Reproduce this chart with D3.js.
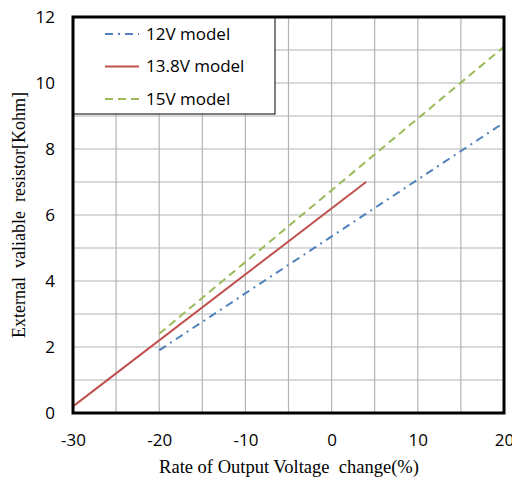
<!DOCTYPE html>
<html>
<head>
<meta charset="utf-8">
<script src="https://cdn.jsdelivr.net/npm/d3@7"></script>
<style>
  html, body { margin: 0; padding: 0; background: #fff; }
  svg { display: block; }
</style>
</head>
<body>
<svg id="chart" width="512" height="477"></svg>
<script>
// Series: rate of output voltage change (%) vs external resistor (kOhm)
const seriesNames = ["12V model", "13.8V model", "15V model"];
const seriesX = [
  [-20, 20],
  [-30, 4],
  [-20, 20]
];
const seriesY = [
  [1.9, 8.8],
  [0.2, 7.0],
  [2.4, 11.1]
];
const seriesColors = ["#4F81BD", "#C0504D", "#9BBB59"];
const seriesDash = ["8,5,2,5", null, "8,5"];

const xTicks = [-30, -20, -10, 0, 10, 20];
const yTicks = [0, 2, 4, 6, 8, 10, 12];
const xGrid = d3.range(-30, 20.1, 5);
const yGrid = d3.range(0, 12.1, 1);

const svg = d3.select("#chart");
const plot = { left: 73, right: 504, top: 17, bottom: 413 };

const x = d3.scaleLinear().domain([-30, 20]).range([plot.left, plot.right]);
const y = d3.scaleLinear().domain([0, 12]).range([plot.bottom, plot.top]);

const sans = "'Open Sans', 'Noto Sans', sans-serif";
const serif = "'Liberation Serif', 'Times New Roman', serif";

// grid
const grid = svg.append("g");
grid.selectAll(".gx").data(xGrid).enter().append("line")
  .attr("x1", d => x(d)).attr("x2", d => x(d))
  .attr("y1", plot.top).attr("y2", plot.bottom)
  .attr("stroke", "#b4b4b4").attr("stroke-width", 1.2);
grid.selectAll(".gy").data(yGrid).enter().append("line")
  .attr("x1", plot.left).attr("x2", plot.right)
  .attr("y1", d => y(d)).attr("y2", d => y(d))
  .attr("stroke", "#b4b4b4").attr("stroke-width", 1.2);

// series lines
const line = d3.line().x(d => x(d[0])).y(d => y(d[1]));
seriesNames.forEach((name, i) => {
  const pts = seriesX[i].map((v, j) => [v, seriesY[i][j]]);
  svg.append("path")
    .attr("d", line(pts))
    .attr("fill", "none")
    .attr("stroke", seriesColors[i])
    .attr("stroke-width", 2)
    .attr("stroke-dasharray", seriesDash[i]);
});

// legend
const legend = svg.append("g");
legend.append("rect")
  .attr("x", plot.left).attr("y", plot.top)
  .attr("width", 202).attr("height", 97)
  .attr("fill", "#fff").attr("stroke", "#000").attr("stroke-width", 1);
seriesNames.forEach((name, i) => {
  const ly = 34 + i * 32.5;
  legend.append("line")
    .attr("x1", 105).attr("x2", 139).attr("y1", ly).attr("y2", ly)
    .attr("stroke", seriesColors[i]).attr("stroke-width", 2)
    .attr("stroke-dasharray", seriesDash[i]);
  legend.append("text")
    .attr("x", 146).attr("y", ly)
    .attr("dy", "0.35em")
    .attr("font-family", sans)
    .attr("font-size", 17)
    .attr("fill", "#000")
    .text(name);
});

// frame
svg.append("rect")
  .attr("x", plot.left).attr("y", plot.top)
  .attr("width", plot.right - plot.left).attr("height", plot.bottom - plot.top)
  .attr("fill", "none").attr("stroke", "#000").attr("stroke-width", 3);

// axes (plain hyphen minus in tick labels)
const fmt = d => String(d);
const xAxis = svg.append("g")
  .attr("transform", `translate(0,${plot.bottom})`)
  .call(d3.axisBottom(x).tickValues(xTicks).tickSize(0).tickPadding(21).tickFormat(fmt));
const yAxis = svg.append("g")
  .attr("transform", `translate(${plot.left},0)`)
  .call(d3.axisLeft(y).tickValues(yTicks).tickSize(0).tickPadding(18).tickFormat(fmt));
[xAxis, yAxis].forEach(a => {
  a.select(".domain").remove();
  a.selectAll("text")
    .attr("font-family", sans)
    .attr("font-size", 17)
    .attr("fill", "#000");
});

// axis titles
svg.append("text")
  .attr("x", 289).attr("y", 473)
  .attr("text-anchor", "middle")
  .attr("font-family", serif)
  .attr("font-size", 18.5)
  .attr("fill", "#000")
  .attr("xml:space", "preserve")
  .text("Rate of Output Voltage  change(%)");
svg.append("text")
  .attr("transform", "translate(25,215) rotate(-90)")
  .attr("text-anchor", "middle")
  .attr("font-family", serif)
  .attr("font-size", 18)
  .attr("fill", "#000")
  .attr("xml:space", "preserve")
  .text("External  valiable  resistor[Kohm]");
</script>
</body>
</html>
